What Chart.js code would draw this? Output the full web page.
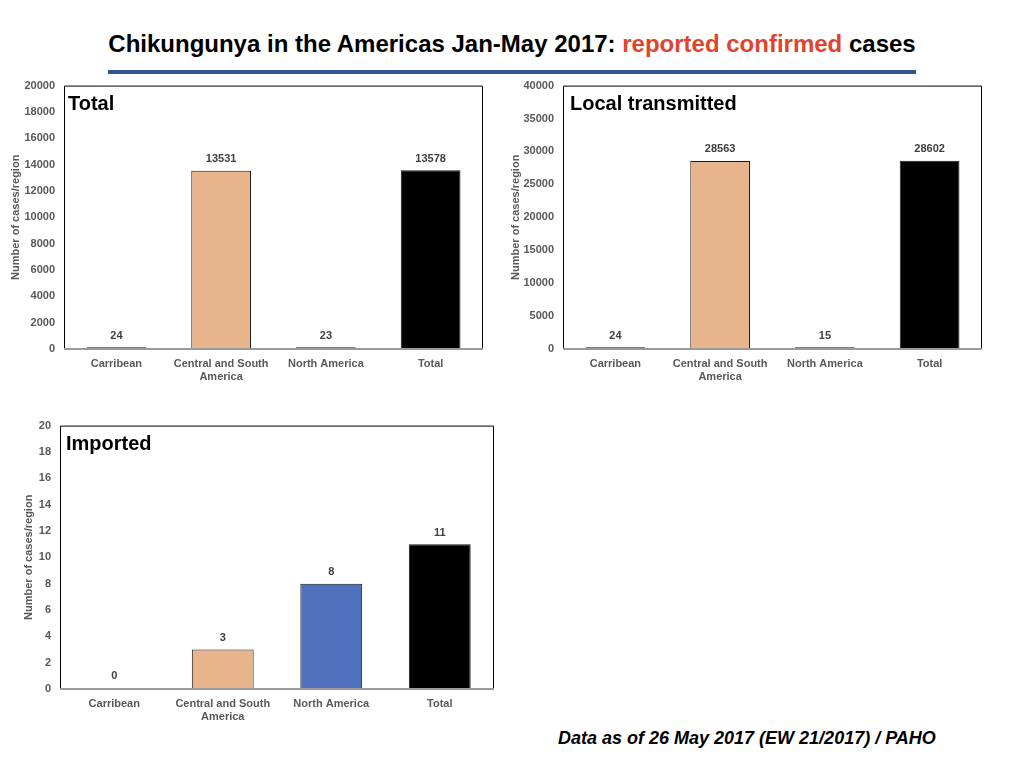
<!DOCTYPE html>
<html>
<head>
<meta charset="utf-8">
<script src="https://cdn.jsdelivr.net/npm/chart.js@4"></script>
<style>
  body { margin: 0; width: 1024px; height: 768px; background: #fff; position: relative; overflow: hidden; font-family: "Liberation Sans", Arial, sans-serif; }
  #title { position: absolute; left: 0; width: 1024px; top: 30px; text-align: center; font-weight: bold; font-size: 24px; color: #000; }
  #title .red { color: #E0452B; }
  #rule { position: absolute; left: 108px; top: 70px; width: 808px; height: 4px; background: #2F5597; }
  #footer { position: absolute; left: 558px; top: 728px; font-weight: bold; font-style: italic; font-size: 18px; color: #000; }
  .box { position: absolute; }
</style>
</head>
<body>
<div id="title">Chikungunya in the Americas Jan-May 2017: <span class="red">reported confirmed</span> cases</div>
<div id="rule"></div>
<div class="box" style="left:0;top:70px;width:500px;height:328px"><canvas id="c1"></canvas></div>
<div class="box" style="left:500px;top:70px;width:500px;height:328px"><canvas id="c2"></canvas></div>
<div class="box" style="left:0;top:410px;width:510px;height:328px"><canvas id="c3"></canvas></div>
<div id="footer">Data as of 26 May 2017 (EW 21/2017) / PAHO</div>

<script>
// data
const regions = [['Carribean'], ['Central and South', 'America'], ['North America'], ['Total']];
const totalCases = [24, 13531, 23, 13578];
const localCases = [24, 28563, 15, 28602];
const importedCases = [0, 3, 8, 11];

const grey = '#7F7F7F';
const peach = '#E8B48C';
const blue = '#4F71BE';
const black = '#000000';
const fontFam = '"Liberation Sans", Arial, sans-serif';

// frame around plot + panel name + value labels
const decor = {
  id: 'decor',
  afterDatasetsDraw(chart, args, opts) {
    const ctx = chart.ctx;
    const a = chart.chartArea;
    ctx.save();
    ctx.strokeStyle = '#000';
    ctx.lineWidth = 1;
    ctx.beginPath();
    ctx.moveTo(a.left + 0.5, a.bottom);
    ctx.lineTo(a.left + 0.5, a.top + 0.5);
    ctx.lineTo(a.right - 0.5, a.top + 0.5);
    ctx.lineTo(a.right - 0.5, a.bottom);
    ctx.stroke();
    ctx.strokeStyle = '#9a9a9a';
    ctx.lineWidth = 2;
    ctx.beginPath();
    ctx.moveTo(a.left, a.bottom);
    ctx.lineTo(a.right, a.bottom);
    ctx.stroke();

    ctx.fillStyle = '#000';
    ctx.font = 'bold 20px ' + fontFam;
    ctx.textAlign = 'left';
    ctx.textBaseline = 'alphabetic';
    ctx.fillText(opts.name, a.left + opts.nameDx, a.top + 24);

    ctx.fillStyle = '#404040';
    ctx.font = 'bold 11px ' + fontFam;
    ctx.textAlign = 'center';
    ctx.textBaseline = 'bottom';
    const meta = chart.getDatasetMeta(0);
    const vals = chart.data.datasets[0].data;
    meta.data.forEach((bar, i) => {
      const top = Math.min(bar.y, a.bottom - 2);
      ctx.fillText(String(vals[i]), bar.x, top - 6);
    });
    ctx.restore();
  }
};

function makeChart(id, values, colors, yMax, yStep, name, nameDx, yWidth, rightPad, minBar, titlePad) {
  new Chart(document.getElementById(id), {
    type: 'bar',
    data: {
      labels: regions,
      datasets: [{
        data: values,
        backgroundColor: colors,
        borderColor: colors.map(c => c === grey ? grey : '#1a1a1a'),
        borderWidth: 1,
        barPercentage: 0.57,
        categoryPercentage: 1.0,
        minBarLength: minBar
      }]
    },
    options: {
      responsive: true,
      maintainAspectRatio: false,
      animation: false,
      layout: { padding: { left: 0, top: 1, right: rightPad, bottom: 0 } },
      plugins: {
        legend: { display: false },
        tooltip: { enabled: false },
        decor: { name: name, nameDx: nameDx }
      },
      scales: {
        x: {
          grid: { display: false, drawTicks: false },
          border: { display: false },
          ticks: { color: '#595959', font: { family: fontFam, size: 11, weight: 'bold' }, padding: 8, maxRotation: 0, autoSkip: false },
          afterFit(s) { s.height = 49; }
        },
        y: {
          min: 0, max: yMax,
          grid: { display: false, drawTicks: false },
          border: { display: false },
          ticks: { stepSize: yStep, color: '#595959', font: { family: fontFam, size: 11, weight: 'bold' }, padding: 9, callback: v => String(v) },
          title: { display: true, text: 'Number of cases/region', color: '#595959', font: { family: fontFam, size: 11, weight: 'bold' }, padding: { top: titlePad, bottom: 0 } },
          afterFit(s) { s.width = yWidth; }
        }
      }
    },
    plugins: [decor]
  });
}

makeChart('c1', totalCases, [grey, peach, grey, black], 20000, 2000, 'Total', 4, 64, 17, 2, 9);
makeChart('c2', localCases, [grey, peach, grey, black], 40000, 5000, 'Local transmitted', 7, 63, 18, 2, 9);
makeChart('c3', importedCases, [grey, peach, blue, black], 20, 2, 'Imported', 6, 60, 16, 0, 22);
</script>
</body>
</html>
